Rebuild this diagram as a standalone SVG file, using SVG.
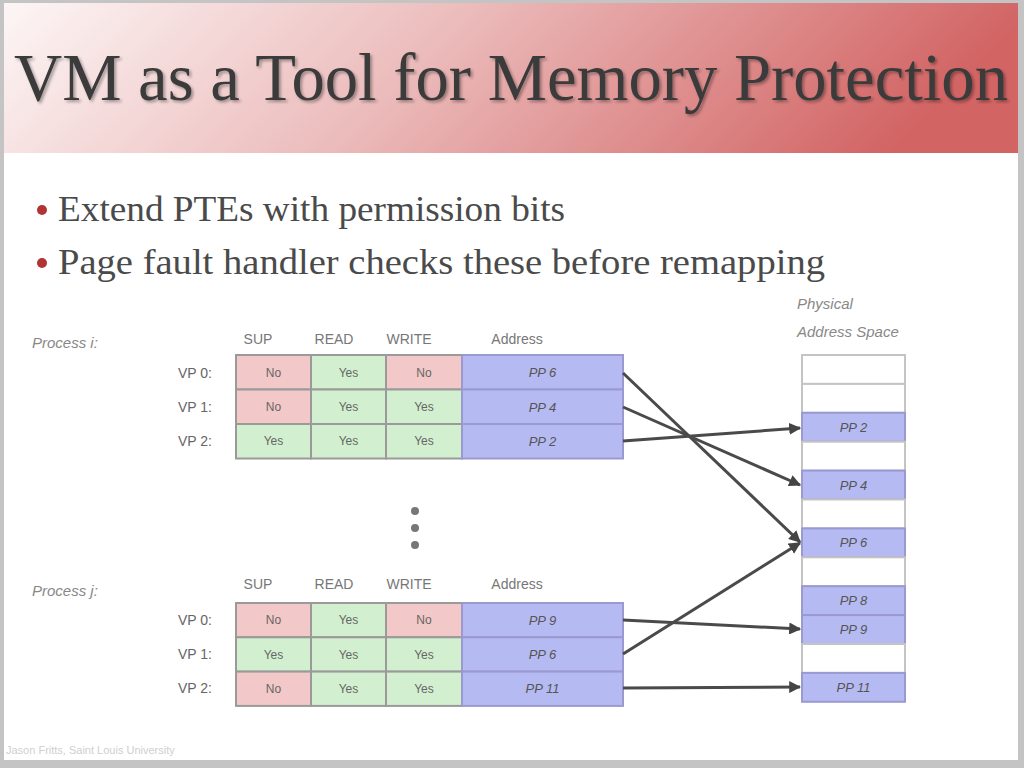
<svg xmlns="http://www.w3.org/2000/svg" width="1024" height="768" viewBox="0 0 1024 768">
<defs>
<linearGradient id="tg" x1="0" y1="0" x2="1" y2="0.15">
<stop offset="0" stop-color="#fdf6f6"/>
<stop offset="0.45" stop-color="#ecbcbc"/>
<stop offset="1" stop-color="#d26464"/>
</linearGradient>
<marker id="ah" viewBox="0 0 10 10" refX="9" refY="5" markerWidth="4" markerHeight="4" orient="auto" markerUnits="strokeWidth">
<path d="M0,0 L10,5 L0,10 z" fill="#444"/>
</marker>
<filter id="ts" x="-5%" y="-20%" width="110%" height="140%">
<feGaussianBlur in="SourceAlpha" stdDeviation="1.5"/>
<feOffset dx="2" dy="2" result="o"/>
<feComponentTransfer><feFuncA type="linear" slope="0.35"/></feComponentTransfer>
<feMerge><feMergeNode/><feMergeNode in="SourceGraphic"/></feMerge>
</filter>
</defs>
<style>
.title{font-family:"Liberation Serif",serif;font-size:67px;fill:#3a3a3a}
.bul{font-family:"Liberation Serif",serif;font-size:35px;fill:#4a4a4a}
.lbl{font-family:"Liberation Sans",sans-serif;font-size:14px;fill:#777}
.it{font-family:"Liberation Sans",sans-serif;font-size:15px;font-style:italic;fill:#888}
.vp{font-family:"Liberation Sans",sans-serif;font-size:14px;fill:#666;text-anchor:end}
.ct{font-family:"Liberation Sans",sans-serif;font-size:12px;fill:#666;text-anchor:middle;dominant-baseline:central}
.pt{font-family:"Liberation Sans",sans-serif;font-size:13px;font-style:italic;fill:#555;text-anchor:middle;dominant-baseline:central}
.no{fill:#f3c8c8;stroke:#9a9a9a;stroke-width:2}
.yes{fill:#d2f0cf;stroke:#9a9a9a;stroke-width:2}
.pp{fill:#b6baf2;stroke:#9a9ad0;stroke-width:2}
.emp{fill:#ffffff;stroke:#c4c4c4;stroke-width:2}
.ar{stroke:#4a4a4a;stroke-width:3;fill:none;marker-end:url(#ah)}
</style>
<rect x="0" y="0" width="1024" height="768" fill="#c4c4c4"/>
<rect x="4" y="3" width="1014" height="757" fill="#ffffff"/>
<rect x="4" y="3" width="1014" height="150" fill="url(#tg)"/>
<text class="title" x="14" y="100" textLength="994" lengthAdjust="spacingAndGlyphs" filter="url(#ts)">VM as a Tool for Memory Protection</text>

<g id="bullets">
<circle cx="42" cy="210" r="5" fill="#b03434"/>
<text class="bul" x="58" y="221" textLength="507" lengthAdjust="spacingAndGlyphs">Extend PTEs with permission bits</text>
<circle cx="42" cy="263" r="5" fill="#b03434"/>
<text class="bul" x="58" y="274" textLength="767" lengthAdjust="spacingAndGlyphs">Page fault handler checks these before remapping</text>
</g>

<g id="process-i">
<text class="it" x="32" y="348">Process i:</text>
<text class="lbl" x="258" y="344" text-anchor="middle">SUP</text>
<text class="lbl" x="334" y="344" text-anchor="middle">READ</text>
<text class="lbl" x="409" y="344" text-anchor="middle">WRITE</text>
<text class="lbl" x="517" y="344" text-anchor="middle">Address</text>
<text class="vp" x="212" y="378">VP 0:</text>
<text class="vp" x="212" y="412">VP 1:</text>
<text class="vp" x="212" y="446">VP 2:</text>
<rect class="no" x="236" y="355" width="75" height="34.5"/><text class="ct" x="273.5" y="372.5">No</text>
<rect class="yes" x="311" y="355" width="75" height="34.5"/><text class="ct" x="348.5" y="372.5">Yes</text>
<rect class="no" x="386" y="355" width="76" height="34.5"/><text class="ct" x="424" y="372.5">No</text>
<rect class="pp" x="462" y="355" width="161" height="34.5"/><text class="pt" x="542.5" y="372.5">PP 6</text>
<rect class="no" x="236" y="389.5" width="75" height="34.5"/><text class="ct" x="273.5" y="407">No</text>
<rect class="yes" x="311" y="389.5" width="75" height="34.5"/><text class="ct" x="348.5" y="407">Yes</text>
<rect class="yes" x="386" y="389.5" width="76" height="34.5"/><text class="ct" x="424" y="407">Yes</text>
<rect class="pp" x="462" y="389.5" width="161" height="34.5"/><text class="pt" x="542.5" y="407">PP 4</text>
<rect class="yes" x="236" y="424" width="75" height="34.5"/><text class="ct" x="273.5" y="441">Yes</text>
<rect class="yes" x="311" y="424" width="75" height="34.5"/><text class="ct" x="348.5" y="441">Yes</text>
<rect class="yes" x="386" y="424" width="76" height="34.5"/><text class="ct" x="424" y="441">Yes</text>
<rect class="pp" x="462" y="424" width="161" height="34.5"/><text class="pt" x="542.5" y="441">PP 2</text>
</g>

<g id="ellipsis">
<circle cx="415" cy="511" r="4" fill="#777"/>
<circle cx="415" cy="528" r="4" fill="#777"/>
<circle cx="415" cy="545" r="4" fill="#777"/>
</g>

<g id="process-j">
<text class="it" x="32" y="596">Process j:</text>
<text class="lbl" x="258" y="589" text-anchor="middle">SUP</text>
<text class="lbl" x="334" y="589" text-anchor="middle">READ</text>
<text class="lbl" x="409" y="589" text-anchor="middle">WRITE</text>
<text class="lbl" x="517" y="589" text-anchor="middle">Address</text>
<text class="vp" x="212" y="625">VP 0:</text>
<text class="vp" x="212" y="659">VP 1:</text>
<text class="vp" x="212" y="693">VP 2:</text>
<rect class="no" x="236" y="603" width="75" height="34.3"/><text class="ct" x="273.5" y="620">No</text>
<rect class="yes" x="311" y="603" width="75" height="34.3"/><text class="ct" x="348.5" y="620">Yes</text>
<rect class="no" x="386" y="603" width="76" height="34.3"/><text class="ct" x="424" y="620">No</text>
<rect class="pp" x="462" y="603" width="161" height="34.3"/><text class="pt" x="542.5" y="620">PP 9</text>
<rect class="yes" x="236" y="637.3" width="75" height="34.3"/><text class="ct" x="273.5" y="654.5">Yes</text>
<rect class="yes" x="311" y="637.3" width="75" height="34.3"/><text class="ct" x="348.5" y="654.5">Yes</text>
<rect class="yes" x="386" y="637.3" width="76" height="34.3"/><text class="ct" x="424" y="654.5">Yes</text>
<rect class="pp" x="462" y="637.3" width="161" height="34.3"/><text class="pt" x="542.5" y="654.5">PP 6</text>
<rect class="no" x="236" y="671.6" width="75" height="34.3"/><text class="ct" x="273.5" y="688.7">No</text>
<rect class="yes" x="311" y="671.6" width="75" height="34.3"/><text class="ct" x="348.5" y="688.7">Yes</text>
<rect class="yes" x="386" y="671.6" width="76" height="34.3"/><text class="ct" x="424" y="688.7">Yes</text>
<rect class="pp" x="462" y="671.6" width="161" height="34.3"/><text class="pt" x="542.5" y="688.7">PP 11</text>
</g>

<g id="physical">
<text class="it" x="797" y="309">Physical</text>
<text class="it" x="797" y="337">Address Space</text>
<rect class="emp" x="802" y="355" width="103" height="28.9"/>
<rect class="emp" x="802" y="383.9" width="103" height="28.9"/>
<rect class="pp" x="802" y="412.8" width="103" height="28.9"/><text class="pt" x="853.5" y="427.3">PP 2</text>
<rect class="emp" x="802" y="441.7" width="103" height="28.9"/>
<rect class="pp" x="802" y="470.6" width="103" height="28.9"/><text class="pt" x="853.5" y="485">PP 4</text>
<rect class="emp" x="802" y="499.5" width="103" height="28.9"/>
<rect class="pp" x="802" y="528.4" width="103" height="28.9"/><text class="pt" x="853.5" y="542.8">PP 6</text>
<rect class="emp" x="802" y="557.3" width="103" height="28.9"/>
<rect class="pp" x="802" y="586.2" width="103" height="28.9"/><text class="pt" x="853.5" y="600.6">PP 8</text>
<rect class="pp" x="802" y="615.1" width="103" height="28.9"/><text class="pt" x="853.5" y="629.5">PP 9</text>
<rect class="emp" x="802" y="644" width="103" height="28.9"/>
<rect class="pp" x="802" y="672.9" width="103" height="28.9"/><text class="pt" x="853.5" y="687.3">PP 11</text>
</g>

<g id="connectors">
<line class="ar" x1="623" y1="373" x2="800" y2="542"/>
<line class="ar" x1="623" y1="407" x2="800" y2="485"/>
<line class="ar" x1="623" y1="441" x2="800" y2="428"/>
<line class="ar" x1="623" y1="620" x2="800" y2="629"/>
<line class="ar" x1="623" y1="654" x2="800" y2="543"/>
<line class="ar" x1="623" y1="688" x2="800" y2="687"/>
</g>

<text x="6" y="754" font-family="Liberation Sans,sans-serif" font-size="11" fill="#cfcfcf">Jason Fritts, Saint Louis University</text>
</svg>
